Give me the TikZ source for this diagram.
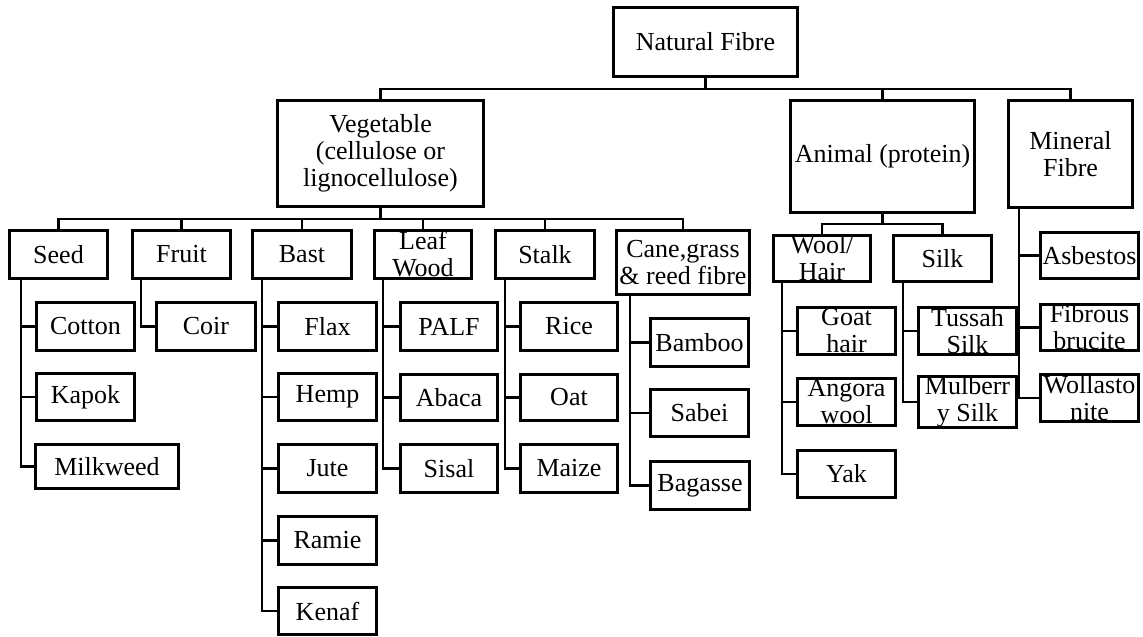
\documentclass[tikz,border=0pt]{standalone}
\usepackage{fontspec}
\setmainfont{Liberation Serif}
\tikzset{
  box/.style={draw, line width=2.6pt, inner sep=0pt, align=center,
    font=\fontsize{26}{27}\selectfont},
  conn/.style={line width=2.3pt},
}
\newcommand\bx[6]{\node[box, minimum width={#4pt-#2pt-2.6pt}, minimum height={#5pt-#3pt-2.6pt}] (#1) at ({(#2+#4)/2},{(#3+#5)/2}) {#6};}
\begin{document}
\begin{tikzpicture}[x=1pt,y=-1pt]
\useasboundingbox (0,0) rectangle (1143,637);
% level 0
\bx{nf}{612}{6}{799}{78}{Natural Fibre}
% level 1
\bx{veg}{276}{99}{485}{208}{Vegetable\\(cellulose or\\lignocellulose)}
\bx{ani}{789}{99}{976}{214}{Animal (protein)}
\bx{min}{1007}{99}{1134}{209}{Mineral\\Fibre}
% vegetable children
\bx{seed}{8}{229}{109}{280}{Seed}
\bx{fruit}{131}{229}{232}{280}{Fruit}
\bx{bast}{251}{229}{353}{280}{Bast}
\bx{leaf}{373}{229}{473}{280}{Leaf\\Wood}
\bx{stalk}{494}{229}{596}{280}{Stalk}
\bx{cane}{615}{229}{751}{296}{Cane,grass\\\& reed fibre}
% animal children
\bx{wool}{772}{234}{872}{283}{Wool/\\Hair}
\bx{silk}{892}{234}{993}{283}{Silk}
% seed
\bx{cotton}{35}{301}{136}{352}{Cotton}
\bx{kapok}{35}{372}{136}{422}{Kapok}
\bx{milk}{34}{443}{180}{490}{Milkweed}
% fruit
\bx{coir}{155}{301}{257}{352}{Coir}
% bast
\bx{flax}{277}{301}{378}{352}{Flax}
\bx{hemp}{277}{372}{378}{422}{Hemp}
\bx{jute}{277}{443}{378}{494}{Jute}
\bx{ramie}{277}{515}{378}{566}{Ramie}
\bx{kenaf}{277}{586}{378}{636}{Kenaf}
% leaf
\bx{palf}{399}{301}{499}{352}{PALF}
\bx{abaca}{399}{373}{499}{422}{Abaca}
\bx{sisal}{399}{443}{499}{494}{Sisal}
% stalk
\bx{rice}{519}{301}{619}{352}{Rice}
\bx{oat}{519}{373}{619}{422}{Oat}
\bx{maize}{519}{443}{619}{494}{Maize}
% cane
\bx{bamboo}{649}{317}{750}{368}{Bamboo}
\bx{sabei}{649}{388}{750}{438}{Sabei}
\bx{bagasse}{649}{460}{751}{511}{Bagasse}
% wool
\bx{goat}{796}{306}{897}{356}{Goat\\hair}
\bx{angora}{796}{377}{897}{427}{Angora\\wool}
\bx{yak}{796}{449}{897}{499}{Yak}
% silk
\bx{tussah}{917}{306}{1018}{356}{Tussah\\Silk}
\bx{mulb}{917}{377}{1018}{427}{Mulberr\\y Silk}
% mineral
\bx{asb}{1039}{231}{1140}{280}{Asbestos}
\bx{fib}{1039}{303}{1140}{352}{Fibrous\\brucite}
\bx{woll}{1039}{373}{1140}{423}{Wollasto\\nite}

% connectors level 0 -> 1
\draw[conn] (nf.south) -- (nf.south |- 0,89) -| (veg.north);
\draw[conn] (nf.south) -- (nf.south |- 0,89) -| (ani.north);
\draw[conn] (nf.south) -- (nf.south |- 0,89) -| (min.north);
% vegetable -> children
\foreach \c in {seed,fruit,bast,leaf,stalk,cane}
  \draw[conn] (veg.south) -- (veg.south |- 0,219) -| (\c.north);
% animal -> children
\foreach \c in {wool,silk}
  \draw[conn] (ani.south) -- (ani.south |- 0,224) -| (\c.north);
% stems
\foreach \c in {cotton,kapok,milk}
  \draw[conn] ([xshift=13pt]seed.south west) |- (\c.west);
\draw[conn] ([xshift=10pt]fruit.south west) |- (coir.west);
\foreach \c in {flax,hemp,jute,ramie,kenaf}
  \draw[conn] ([xshift=11pt]bast.south west) |- (\c.west);
\foreach \c in {palf,abaca,sisal}
  \draw[conn] ([xshift=10pt]leaf.south west) |- (\c.west);
\foreach \c in {rice,oat,maize}
  \draw[conn] ([xshift=11pt]stalk.south west) |- (\c.west);
\foreach \c in {bamboo,sabei,bagasse}
  \draw[conn] ([xshift=15pt]cane.south west) |- (\c.west);
\foreach \c in {goat,angora,yak}
  \draw[conn] ([xshift=10pt]wool.south west) |- (\c.west);
\foreach \c in {tussah,mulb}
  \draw[conn] ([xshift=11pt]silk.south west) |- (\c.west);
\foreach \c in {asb,fib,woll}
  \draw[conn] ([xshift=12pt]min.south west) |- (\c.west);
\end{tikzpicture}
\end{document}
